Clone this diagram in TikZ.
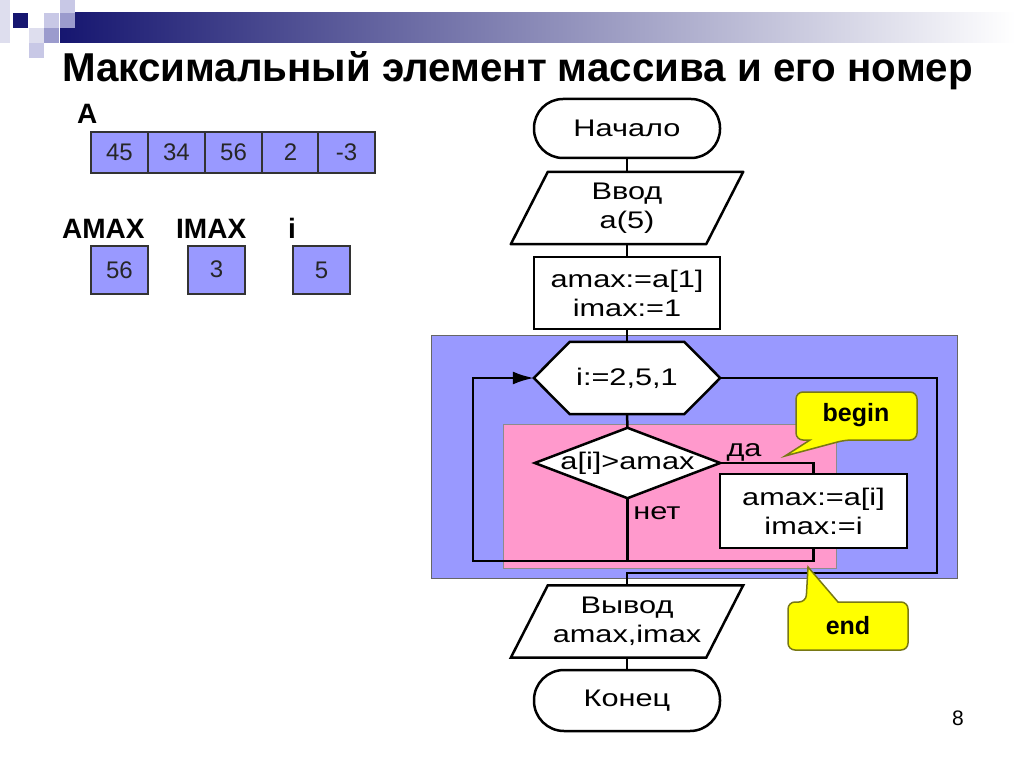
\documentclass[tikz,border=0pt]{standalone}
\usepackage{fontspec}
\setmainfont{Liberation Sans}
\newfontfamily\wide[FakeStretch=1.28]{Liberation Sans}
\usetikzlibrary{arrows.meta}
\definecolor{lav}{RGB}{153,153,255}
\definecolor{pinkr}{RGB}{255,153,204}
\definecolor{navyd}{RGB}{22,22,112}
\definecolor{barmid}{RGB}{140,140,178}
\definecolor{sqa}{RGB}{222,222,238}
\definecolor{sqb}{RGB}{200,200,230}
\definecolor{sqc}{RGB}{155,155,205}
\definecolor{cyel}{RGB}{255,255,0}
\definecolor{colive}{RGB}{120,120,20}
\tikzset{
  fc/.style={draw=black, line width=2.5pt, fill=white},
  ftext/.style={font=\wide\fontsize{24}{29}\selectfont, align=center, inner sep=0pt},
  term/.style={fc, ftext, rounded corners=29pt, minimum width=186pt, minimum height=59pt},
  procbox/.style={fc, ftext, minimum width=186pt, minimum height=72pt},
  ghost/.style={ftext, minimum width=195pt, minimum height=72pt},
  conn/.style={line width=2.5pt, draw=black},
  cell/.style={draw=black!80, line width=1.2pt, fill=lav, minimum width=57pt, minimum height=41pt, font=\fontsize{24}{28}\selectfont, inner sep=0pt, text=black!85},
  vbox/.style={draw=black!80, line width=1.2pt, fill=lav, minimum width=57pt, minimum height=48pt, font=\fontsize{24}{28}\selectfont, inner sep=0pt, text=black!85},
  lbl/.style={font=\bfseries\fontsize{28}{32}\selectfont, inner sep=0pt, anchor=base west},
  callout/.style={fill=cyel, draw=colive, line width=1.5pt},
  ctext/.style={font=\bfseries\fontsize{25}{30}\selectfont, inner sep=0pt},
}
\begin{document}
\begin{tikzpicture}[x=1pt,y=-1pt]
\useasboundingbox[fill=white] (0,0) rectangle (1024,767);
% header decoration
\fill[sqa] (0,0) rectangle (10,43);
\shade[left color=navyd, middle color=barmid, right color=white] (60,13) rectangle (1015,43);
\fill[navyd] (13,13) rectangle (28,28);
\fill[sqb] (44,13) rectangle (59,28);
\fill[sqb] (60,0) rectangle (75,13);
\fill[sqc] (60,13) rectangle (75,28);
\fill[sqa] (29,28) rectangle (44,43);
\fill[sqc] (44,28) rectangle (59,43);
\fill[sqb] (29,43) rectangle (44,58);
% title
\node[font=\bfseries\fontsize{40.3}{45}\selectfont, inner sep=0pt, anchor=base west] (title) at (62,82) {Максимальный элемент массива и его номер};
% array
\node[lbl] (lA) at (77,124) {A};
\node[cell] (c1) at (119.5,152.5) {45};
\node[cell] (c2) at (176.5,152.5) {34};
\node[cell] (c3) at (233.5,152.5) {56};
\node[cell] (c4) at (290.5,152.5) {2};
\node[cell] (c5) at (346.5,152.5) {-3};
\node[lbl] (lAMAX) at (62,238) {AMAX};
\node[lbl] (lIMAX) at (176,238) {IMAX};
\node[lbl] (li) at (288,238) {i};
\node[vbox] (vA) at (119.5,270) {56};
\node[vbox] (vI) at (216.5,270) {\raisebox{2pt}{3}};
\node[vbox] (vi) at (321.5,270) {5};
% regions
\fill[lav] (431,335) rectangle (957,578);
\draw[black!60, line width=1pt] (431,335) rectangle (957,578);
\fill[pinkr] (503,424) rectangle (836,568);
\draw[black!45, line width=0.8pt] (503,424) rectangle (836,568);
% flowchart nodes
\node[term] (start) at (627,128.5) {Начало};
\node[ghost] (in) at (627,208) {};
\draw[fc, line join=round] ([xshift=18.5pt]in.north west) -- ([xshift=18.5pt]in.north east) -- ([xshift=-18.5pt]in.south east) -- ([xshift=-18.5pt]in.south west) -- cycle;
\node[ftext] at (in.center) {Ввод\\a(5)};
\node[procbox] (init) at (627,293) {amax:=a[1]\\imax:=1};
\node[ftext, minimum width=186pt, minimum height=72pt] (loop) at (627,378) {};
\draw[fc] (loop.west) -- ([xshift=36pt]loop.north west) -- ([xshift=-36pt]loop.north east) -- (loop.east) -- ([xshift=-36pt]loop.south east) -- ([xshift=36pt]loop.south west) -- cycle;
\node[ftext] at (loop.center) {i:=2,5,1};
\node[ftext, minimum width=185pt, minimum height=70pt] (cond) at (627.5,463) {};
\draw[fc] (cond.west) -- (cond.north) -- (cond.east) -- (cond.south) -- cycle;
\node[ftext] at (cond.center) {a[i]>amax};
\node[procbox, minimum width=187pt, minimum height=74pt] (body) at (813.5,511) {amax:=a[i]\\imax:=i};
\node[ghost] (out) at (627,621.5) {};
\draw[fc] ([xshift=18.5pt]out.north west) -- ([xshift=18.5pt]out.north east) -- ([xshift=-18.5pt]out.south east) -- ([xshift=-18.5pt]out.south west) -- cycle;
\node[ftext, minimum height=75pt] at (out.center) {Вывод\\amax,imax};
\node[term, minimum height=61pt, rounded corners=30pt] (stop) at (627,700.5) {Конец};
% labels
\node[ftext] (yes) at (744,452) {да};
\node[ftext] (no) at (657,513) {нет};
% connectors
\coordinate (backL) at (473,561);
\coordinate (exitR) at (937,573);
\draw[conn] (start.south) -- (in.north);
\draw[conn] (in.south) -- (init.north);
\draw[conn] (init.south) -- (loop.north);
\draw[conn] (loop.south) -- (cond.north);
\draw[conn] (cond.east) -| (body.north);
\draw[conn] (cond.south) -- (cond.south |- backL);
\draw[conn, -{Latex[length=21pt,width=13pt]}] (body.south) |- (backL) |- (loop.west);
\draw[conn] (loop.east) -| (exitR) -| (out.north);
\draw[conn] (out.south) -- (stop.north);
% callouts
\draw[callout] (810,440) [rounded corners=7pt] -- (796,440) -- (796,392) -- (917,392) -- (917,440) -- (845,440) [sharp corners] -- (785,456) -- cycle;
\node[ctext] (cbegin) at (856,415) {begin};
\draw[callout] (838,602) [rounded corners=7pt] -- (908,602) -- (908,650) -- (788,650) -- (788,602) -- (806,602) [sharp corners] -- (808,567) -- cycle;
\node[ctext] (cend) at (848,626) {end};
% page number
\node[font=\fontsize{21}{24}\selectfont, inner sep=0pt] (pg) at (958,718) {8};
\end{tikzpicture}
\end{document}
